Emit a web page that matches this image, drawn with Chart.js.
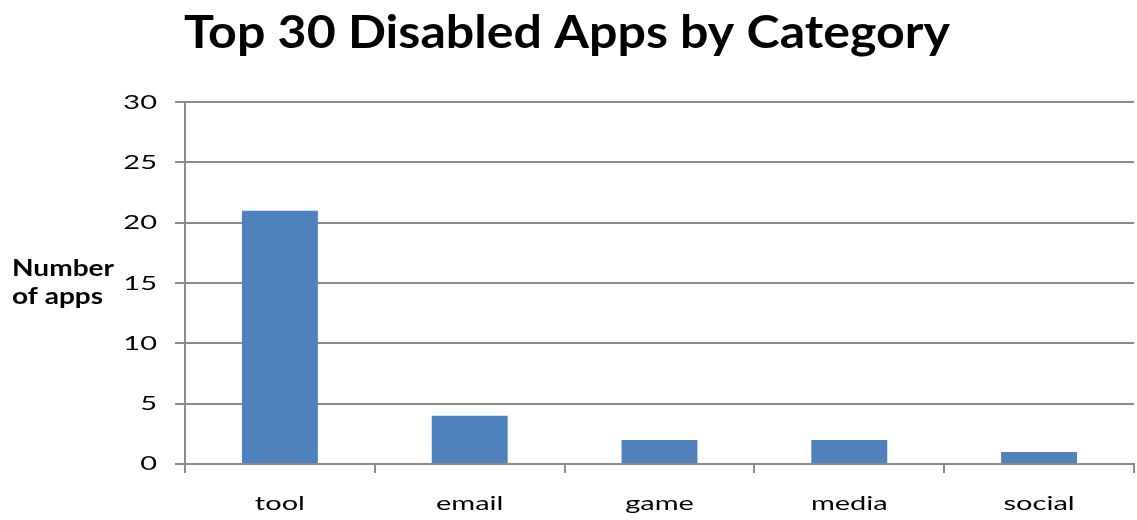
<!DOCTYPE html>
<html>
<head>
<meta charset="utf-8">
<script src="https://cdn.jsdelivr.net/npm/chart.js@4/dist/chart.umd.min.js"></script>
<style>
  html, body { margin: 0; padding: 0; background: #fff; }
  #wrap { width: 1137px; height: 520px; position: relative; }
</style>
</head>
<body>
<div id="wrap"><canvas id="c"></canvas></div>
<script>
const categories = ["tool", "email", "game", "media", "social"];
const appCounts = [21, 4, 2, 2, 1];
const yTicks = [0, 5, 10, 15, 20, 25, 30];
const chartTitle = "Top 30 Disabled Apps by Category";
const yAxisLabel = ["Number", "of apps"];

const FONT = "Lato, 'Open Sans', sans-serif";
const GRID = "#8c8c8c";
const TITLE_SIZE = 46;
const LABEL_SIZE = 23;
const TICK_SIZE = 20;

// Wide-set lettering: each text run is stretched horizontally about its anchor
function stretchFor(font) {
  if (font.indexOf(TITLE_SIZE + "px") !== -1) return 1.09;
  if (font.indexOf(LABEL_SIZE + "px") !== -1) return 1.22;
  return 1.45;
}

const wideText = {
  id: "wideText",
  beforeInit(chart) {
    const ctx = chart.ctx;
    const fill = ctx.fillText;
    ctx.fillText = function (text, x, y) {
      const sx = stretchFor(this.font);
      this.save();
      this.translate(x, y);
      this.scale(sx, 1);
      fill.call(this, text, 0, 0);
      this.restore();
    };
  }
};

// Horizontal two-line y-axis caption drawn to the left of the tick labels
const sideLabel = {
  id: "sideLabel",
  afterDraw(chart) {
    const ctx = chart.ctx;
    ctx.save();
    ctx.fillStyle = "#000";
    ctx.font = "bold " + LABEL_SIZE + "px " + FONT;
    ctx.textAlign = "left";
    ctx.textBaseline = "alphabetic";
    const mid = chart.scales.y.getPixelForValue(15);
    ctx.fillText(yAxisLabel[0], 12, mid - 7);
    ctx.fillText(yAxisLabel[1], 12, mid + 21);
    ctx.restore();
  }
};

new Chart(document.getElementById("c"), {
  type: "bar",
  data: {
    labels: categories,
    datasets: [{
      data: appCounts,
      backgroundColor: "#4f81bd",
      borderWidth: 0,
      barPercentage: 0.4,
      categoryPercentage: 1.0
    }]
  },
  options: {
    responsive: true,
    maintainAspectRatio: false,
    animation: false,
    layout: { padding: { top: 0, right: 3, bottom: 0, left: 0 } },
    plugins: {
      legend: { display: false },
      tooltip: { enabled: false },
      title: {
        display: true,
        text: chartTitle,
        color: "#000",
        font: { family: FONT, size: TITLE_SIZE, weight: "bold" },
        padding: { top: 6, bottom: 41 }
      }
    },
    scales: {
      x: {
        grid: {
          display: true,
          offset: true,
          drawOnChartArea: false,
          drawTicks: true,
          tickLength: 9,
          color: GRID,
          lineWidth: 2
        },
        border: { display: true, color: GRID, width: 2 },
        ticks: {
          color: "#000",
          font: { family: FONT, size: TICK_SIZE },
          padding: 19,
          maxRotation: 0
        },
        afterFit(scale) { scale.height = 56; }
      },
      y: {
        min: 0,
        max: 30,
        afterBuildTicks(scale) { scale.ticks = yTicks.map(v => ({ value: v })); },
        grid: {
          color: GRID,
          lineWidth: 2,
          drawTicks: true,
          tickLength: 10
        },
        border: { display: true, color: GRID, width: 2 },
        ticks: {
          color: "#000",
          font: { family: FONT, size: TICK_SIZE },
          padding: 18
        },
        afterFit(scale) { scale.width = 185; }
      }
    }
  },
  plugins: [wideText, sideLabel]
});
</script>
</body>
</html>
